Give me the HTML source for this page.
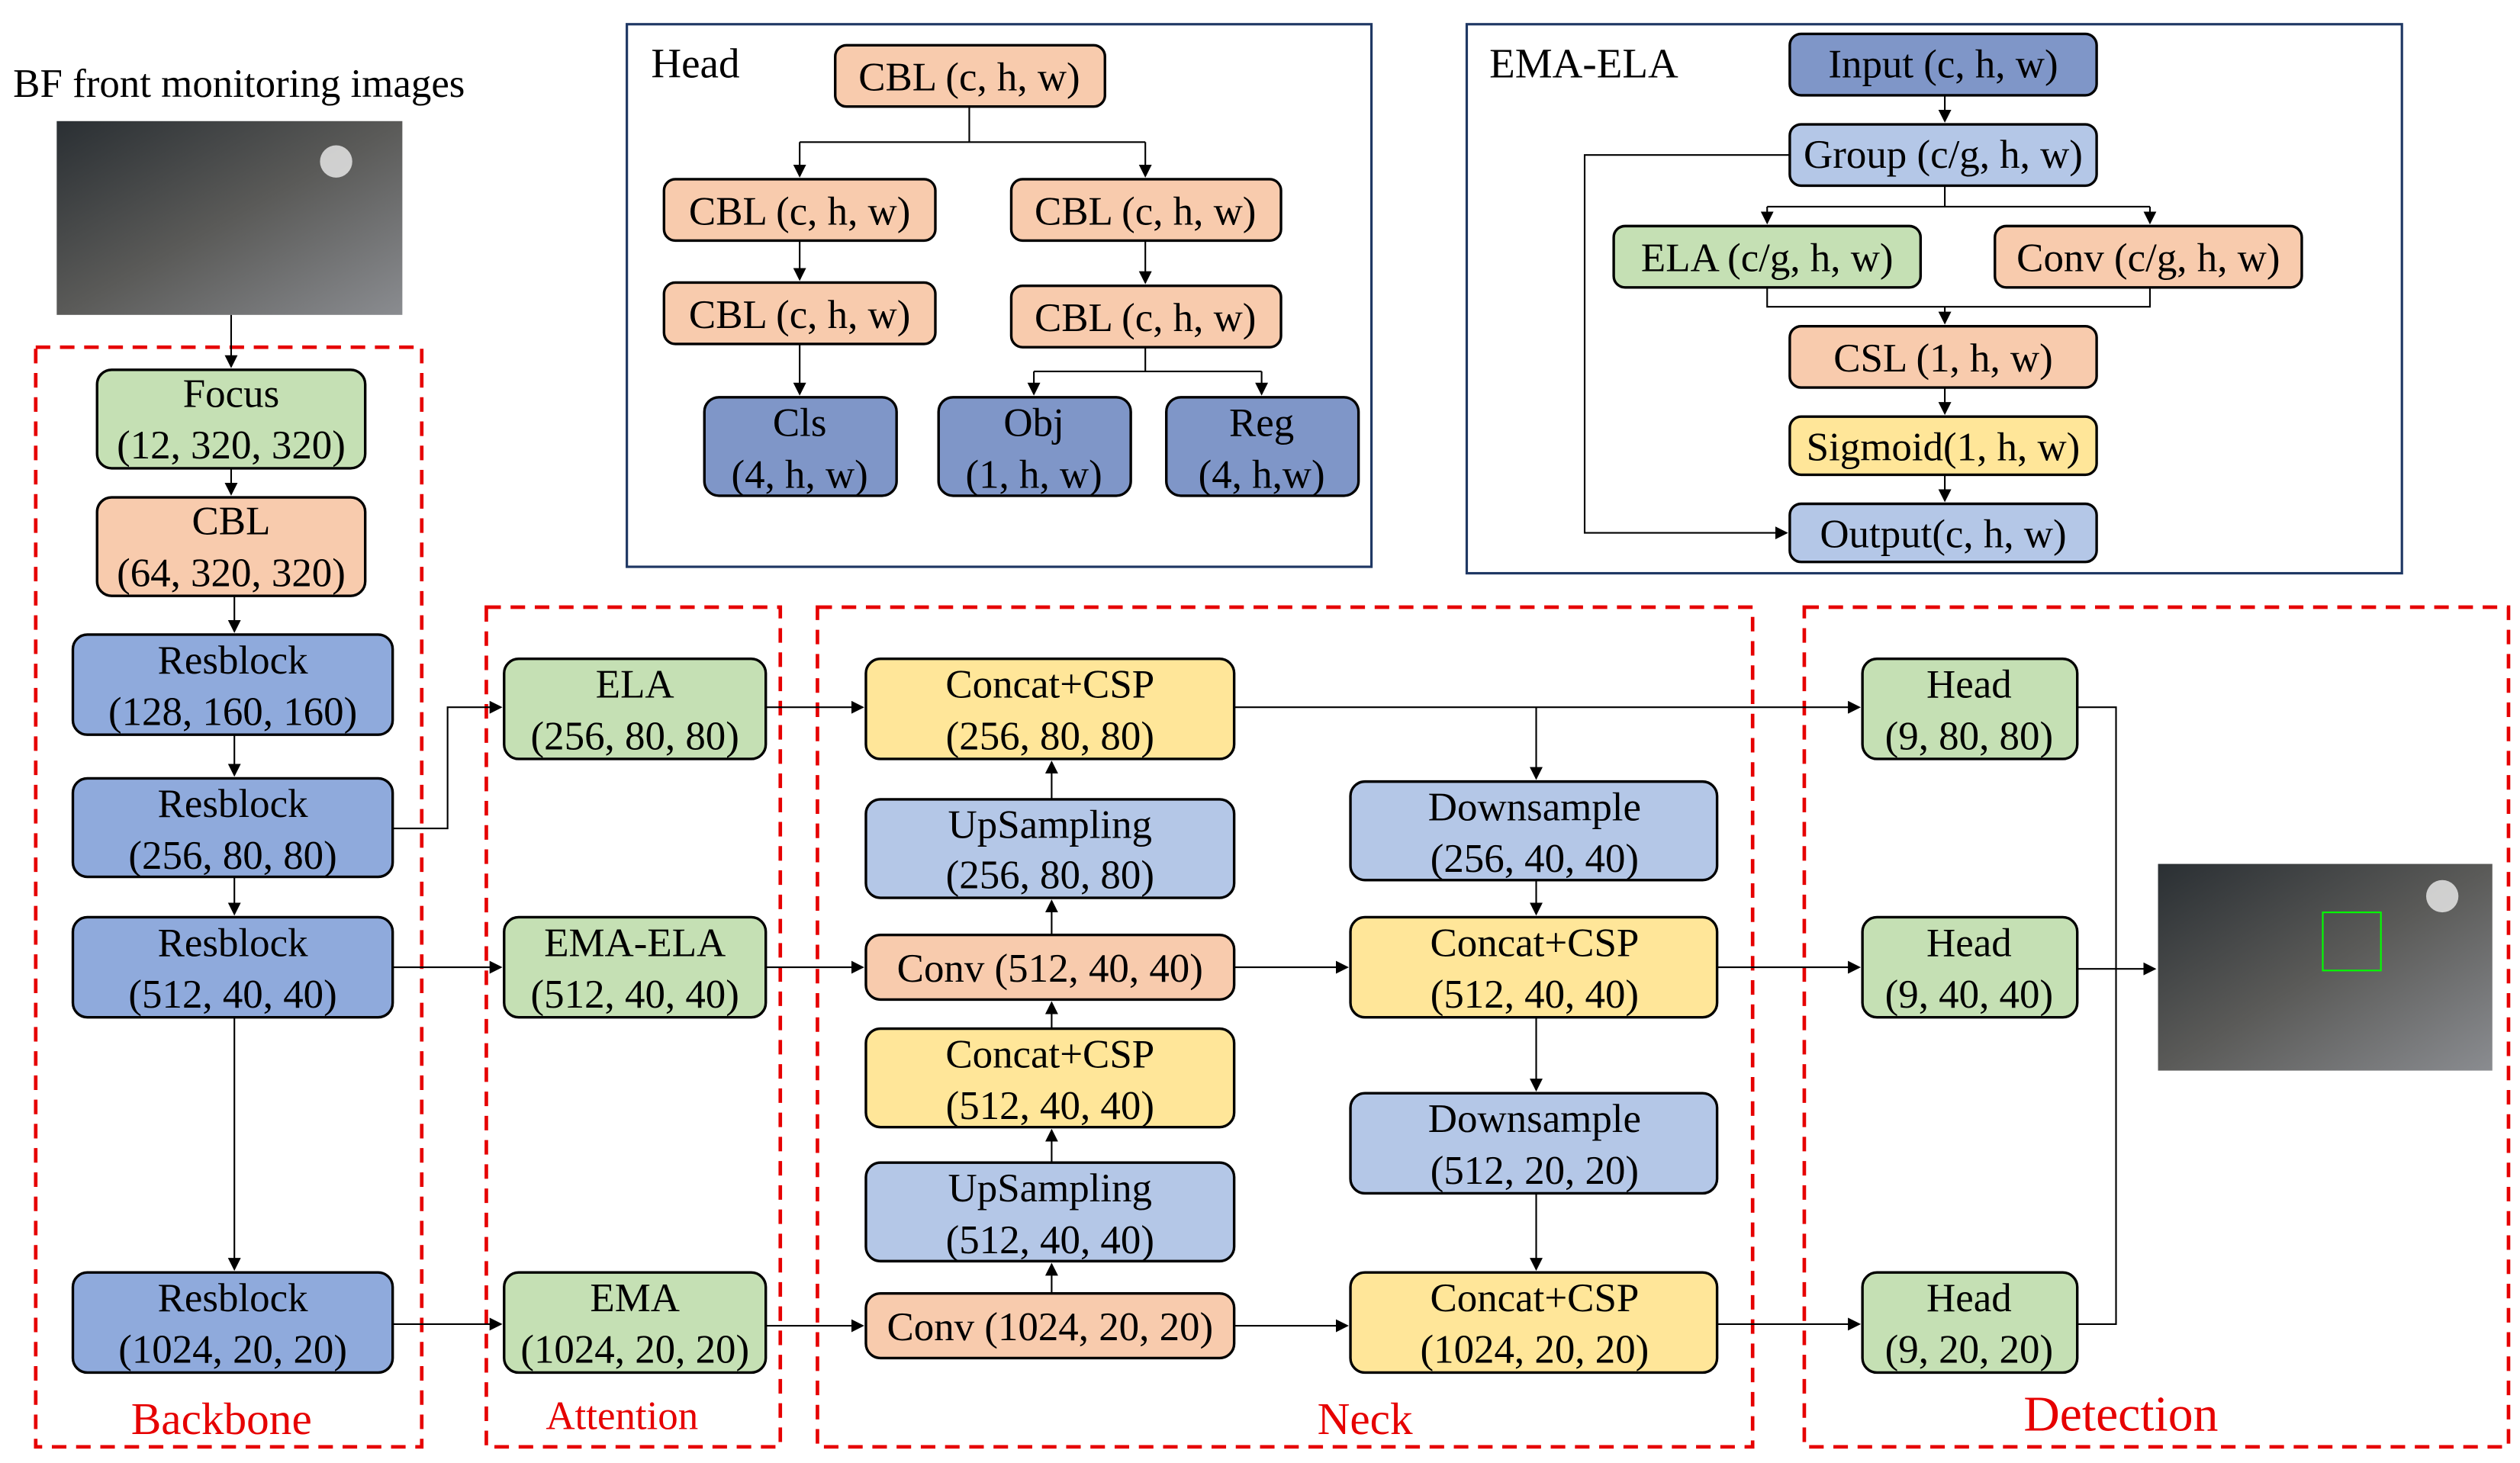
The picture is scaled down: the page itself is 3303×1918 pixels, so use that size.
<!DOCTYPE html>
<html><head><meta charset="utf-8"><style>
html,body{margin:0;padding:0;background:#fff;width:3303px;height:1918px;overflow:hidden}
svg{display:block}
text{font-family:"Liberation Serif",serif;fill:#000}
</style></head><body>
<svg width="3303" height="1918" viewBox="0 0 1560 906" xmlns="http://www.w3.org/2000/svg">
<defs>
<marker id="a" markerWidth="8" markerHeight="8" refX="7" refY="4" orient="auto" markerUnits="userSpaceOnUse"><path d="M0,0 L8,4 L0,8 z" fill="#000"/></marker>
<linearGradient id="img" x1="0" y1="0" x2="1" y2="1"><stop offset="0" stop-color="#2a2f33"/><stop offset="0.5" stop-color="#5a5a58"/><stop offset="1" stop-color="#8a8c90"/></linearGradient>
</defs>
<style>
.n{stroke:#000;stroke-width:1.6}
.g{fill:#c5e0b4}.o{fill:#f8cbad}.b{fill:#8faadc}.d{fill:#7f96c8}.l{fill:#b4c7e7}.y{fill:#ffe699}
.c{fill:none;stroke:#000;stroke-width:1}
.r{fill:none;stroke:#e60000;stroke-width:2.2;stroke-dasharray:9 6}
.t{font-size:25px;text-anchor:middle}
</style>

<text x="8" y="60" font-size="25">BF front monitoring images</text>
<rect x="35" y="75" width="214" height="120" fill="url(#img)"/>
<circle cx="208" cy="100" r="10" fill="#eee" opacity="0.8"/>
<rect x="1336" y="535" width="207" height="128" fill="url(#img)"/>
<circle cx="1512" cy="555" r="10" fill="#eee" opacity="0.8"/>
<rect x="1438" y="565" width="36" height="36" fill="none" stroke="#0f0" stroke-width="1"/>

<!-- dashed groups -->
<rect class="r" x="22" y="215" width="239" height="681"/>
<rect class="r" x="301" y="376" width="182" height="520"/>
<rect class="r" x="506" y="376" width="579" height="520"/>
<rect class="r" x="1117" y="376" width="436" height="520"/>
<text x="137" y="888" font-size="28" fill="#e60000" style="fill:#e60000" text-anchor="middle">Backbone</text>
<text x="385" y="885" font-size="25" style="fill:#e60000" text-anchor="middle">Attention</text>
<text x="845" y="888" font-size="28" style="fill:#e60000" text-anchor="middle">Neck</text>
<text x="1313" y="886" font-size="31" style="fill:#e60000" text-anchor="middle">Detection</text>

<!-- panels -->
<rect x="388" y="15" width="461" height="336" fill="none" stroke="#1f3864" stroke-width="1.5"/>
<rect x="908" y="15" width="579" height="340" fill="none" stroke="#1f3864" stroke-width="1.5"/>
<text x="403" y="48" font-size="26">Head</text>
<text x="922" y="48" font-size="26">EMA-ELA</text>

<!-- connectors -->
<g class="c">
<path d="M143,195V227" marker-end="url(#a)"/>
<path d="M143,290V306" marker-end="url(#a)"/>
<path d="M145,369V391" marker-end="url(#a)"/>
<path d="M145,455V480" marker-end="url(#a)"/>
<path d="M145,543V566" marker-end="url(#a)"/>
<path d="M145,630V786" marker-end="url(#a)"/>
<path d="M243,513H277V438H310" marker-end="url(#a)"/>
<path d="M243,599H310" marker-end="url(#a)"/>
<path d="M243,820H310" marker-end="url(#a)"/>
<path d="M474,438H534" marker-end="url(#a)"/>
<path d="M474,599H534" marker-end="url(#a)"/>
<path d="M474,821H534" marker-end="url(#a)"/>
<path d="M651,801V783" marker-end="url(#a)"/>
<path d="M651,720V700" marker-end="url(#a)"/>
<path d="M651,637V621" marker-end="url(#a)"/>
<path d="M651,579V558" marker-end="url(#a)"/>
<path d="M651,495V472" marker-end="url(#a)"/>
<path d="M764,438H1151" marker-end="url(#a)"/>
<path d="M951,438V482" marker-end="url(#a)"/>
<path d="M951,545V566" marker-end="url(#a)"/>
<path d="M764,599H834" marker-end="url(#a)"/>
<path d="M951,630V675" marker-end="url(#a)"/>
<path d="M951,739V786" marker-end="url(#a)"/>
<path d="M764,821H834" marker-end="url(#a)"/>
<path d="M1063,599H1151" marker-end="url(#a)"/>
<path d="M1063,820H1151" marker-end="url(#a)"/>
<path d="M1286,438H1310V820H1286"/>
<path d="M1286,600H1334" marker-end="url(#a)"/>
<!-- head panel -->
<path d="M600,66V88M495,88H709"/>
<path d="M495,88V109" marker-end="url(#a)"/>
<path d="M709,88V109" marker-end="url(#a)"/>
<path d="M495,149V173" marker-end="url(#a)"/>
<path d="M709,149V175" marker-end="url(#a)"/>
<path d="M495,213V244" marker-end="url(#a)"/>
<path d="M709,215V230M640,230H781"/>
<path d="M640,230V244" marker-end="url(#a)"/>
<path d="M781,230V244" marker-end="url(#a)"/>
<!-- ema-ela panel -->
<path d="M1204,59V75" marker-end="url(#a)"/>
<path d="M1204,115V128M1094,128H1331"/>
<path d="M1094,128V138" marker-end="url(#a)"/>
<path d="M1331,128V138" marker-end="url(#a)"/>
<path d="M1094,178V190H1331V178"/>
<path d="M1204,190V200" marker-end="url(#a)"/>
<path d="M1204,240V256" marker-end="url(#a)"/>
<path d="M1204,294V310" marker-end="url(#a)"/>
<path d="M1108,96H981V330H1106" marker-end="url(#a)"/>
</g>

<!-- backbone -->
<rect class="n g" x="60" y="229" width="166" height="61" rx="9"/><text class="t" x="143" y="252">Focus</text><text class="t" x="143" y="284">(12, 320, 320)</text>
<rect class="n o" x="60" y="308" width="166" height="61" rx="9"/><text class="t" x="143" y="331">CBL</text><text class="t" x="143" y="363">(64, 320, 320)</text>
<rect class="n b" x="45" y="393" width="198" height="62" rx="9"/><text class="t" x="144" y="417">Resblock</text><text class="t" x="144" y="449">(128, 160, 160)</text>
<rect class="n b" x="45" y="482" width="198" height="61" rx="9"/><text class="t" x="144" y="506">Resblock</text><text class="t" x="144" y="538">(256, 80, 80)</text>
<rect class="n b" x="45" y="568" width="198" height="62" rx="9"/><text class="t" x="144" y="592">Resblock</text><text class="t" x="144" y="624">(512, 40, 40)</text>
<rect class="n b" x="45" y="788" width="198" height="62" rx="9"/><text class="t" x="144" y="812">Resblock</text><text class="t" x="144" y="844">(1024, 20, 20)</text>
<!-- attention -->
<rect class="n g" x="312" y="408" width="162" height="62" rx="9"/><text class="t" x="393" y="432">ELA</text><text class="t" x="393" y="464">(256, 80, 80)</text>
<rect class="n g" x="312" y="568" width="162" height="62" rx="9"/><text class="t" x="393" y="592">EMA-ELA</text><text class="t" x="393" y="624">(512, 40, 40)</text>
<rect class="n g" x="312" y="788" width="162" height="62" rx="9"/><text class="t" x="393" y="812">EMA</text><text class="t" x="393" y="844">(1024, 20, 20)</text>
<!-- neck -->
<rect class="n y" x="536" y="408" width="228" height="62" rx="9"/><text class="t" x="650" y="432">Concat+CSP</text><text class="t" x="650" y="464">(256, 80, 80)</text>
<rect class="n l" x="536" y="495" width="228" height="61" rx="9"/><text class="t" x="650" y="519">UpSampling</text><text class="t" x="650" y="550">(256, 80, 80)</text>
<rect class="n o" x="536" y="579" width="228" height="40" rx="9"/><text class="t" x="650" y="608">Conv (512, 40, 40)</text>
<rect class="n y" x="536" y="637" width="228" height="61" rx="9"/><text class="t" x="650" y="661">Concat+CSP</text><text class="t" x="650" y="693">(512, 40, 40)</text>
<rect class="n l" x="536" y="720" width="228" height="61" rx="9"/><text class="t" x="650" y="744">UpSampling</text><text class="t" x="650" y="776">(512, 40, 40)</text>
<rect class="n o" x="536" y="801" width="228" height="40" rx="9"/><text class="t" x="650" y="830">Conv (1024, 20, 20)</text>
<rect class="n l" x="836" y="484" width="227" height="61" rx="9"/><text class="t" x="950" y="508">Downsample</text><text class="t" x="950" y="540">(256, 40, 40)</text>
<rect class="n y" x="836" y="568" width="227" height="62" rx="9"/><text class="t" x="950" y="592">Concat+CSP</text><text class="t" x="950" y="624">(512, 40, 40)</text>
<rect class="n l" x="836" y="677" width="227" height="62" rx="9"/><text class="t" x="950" y="701">Downsample</text><text class="t" x="950" y="733">(512, 20, 20)</text>
<rect class="n y" x="836" y="788" width="227" height="62" rx="9"/><text class="t" x="950" y="812">Concat+CSP</text><text class="t" x="950" y="844">(1024, 20, 20)</text>
<!-- detection -->
<rect class="n g" x="1153" y="408" width="133" height="62" rx="9"/><text class="t" x="1219" y="432">Head</text><text class="t" x="1219" y="464">(9, 80, 80)</text>
<rect class="n g" x="1153" y="568" width="133" height="62" rx="9"/><text class="t" x="1219" y="592">Head</text><text class="t" x="1219" y="624">(9, 40, 40)</text>
<rect class="n g" x="1153" y="788" width="133" height="62" rx="9"/><text class="t" x="1219" y="812">Head</text><text class="t" x="1219" y="844">(9, 20, 20)</text>
<!-- head panel nodes -->
<rect class="n o" x="517" y="28" width="167" height="38" rx="7"/><text class="t" x="600" y="56">CBL (c, h, w)</text>
<rect class="n o" x="411" y="111" width="168" height="38" rx="7"/><text class="t" x="495" y="139">CBL (c, h, w)</text>
<rect class="n o" x="626" y="111" width="167" height="38" rx="7"/><text class="t" x="709" y="139">CBL (c, h, w)</text>
<rect class="n o" x="411" y="175" width="168" height="38" rx="7"/><text class="t" x="495" y="203">CBL (c, h, w)</text>
<rect class="n o" x="626" y="177" width="167" height="38" rx="7"/><text class="t" x="709" y="205">CBL (c, h, w)</text>
<rect class="n d" x="436" y="246" width="119" height="61" rx="9"/><text class="t" x="495" y="270">Cls</text><text class="t" x="495" y="302">(4, h, w)</text>
<rect class="n d" x="581" y="246" width="119" height="61" rx="9"/><text class="t" x="640" y="270">Obj</text><text class="t" x="640" y="302">(1, h, w)</text>
<rect class="n d" x="722" y="246" width="119" height="61" rx="9"/><text class="t" x="781" y="270">Reg</text><text class="t" x="781" y="302">(4, h,w)</text>
<!-- ema-ela nodes -->
<rect class="n d" x="1108" y="21" width="190" height="38" rx="7"/><text class="t" x="1203" y="48">Input (c, h, w)</text>
<rect class="n l" x="1108" y="77" width="190" height="38" rx="7"/><text class="t" x="1203" y="104">Group (c/g, h, w)</text>
<rect class="n g" x="999" y="140" width="190" height="38" rx="7"/><text class="t" x="1094" y="168">ELA (c/g, h, w)</text>
<rect class="n o" x="1235" y="140" width="190" height="38" rx="7"/><text class="t" x="1330" y="168">Conv (c/g, h, w)</text>
<rect class="n o" x="1108" y="202" width="190" height="38" rx="7"/><text class="t" x="1203" y="230">CSL (1, h, w)</text>
<rect class="n y" x="1108" y="258" width="190" height="36" rx="7"/><text class="t" x="1203" y="285">Sigmoid(1, h, w)</text>
<rect class="n l" x="1108" y="312" width="190" height="36" rx="7"/><text class="t" x="1203" y="339">Output(c, h, w)</text>
</svg>
</body></html>
